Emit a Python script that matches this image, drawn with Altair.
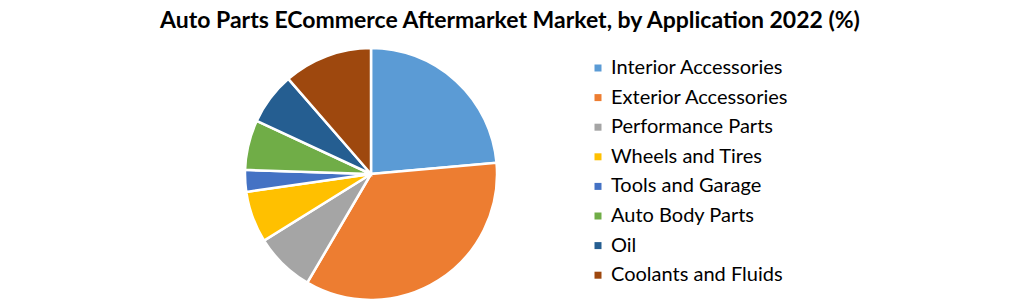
import altair as alt
import pandas as pd

categories = ["Interior Accessories", "Exterior Accessories", "Performance Parts",
              "Wheels and Tires", "Tools and Garage", "Auto Body Parts", "Oil",
              "Coolants and Fluids"]
values = [23.6, 34.9, 7.7, 6.6, 2.8, 6.4, 6.7, 11.4]
colors = ["#5B9BD5", "#ED7D31", "#A5A5A5", "#FFC000", "#4472C4", "#70AD47",
          "#255E91", "#9E480E"]
title_text = "Auto Parts ECommerce Aftermarket Market, by Application  2022 (%)"

df = pd.DataFrame({"category": categories, "value": values,
                   "order": list(range(len(categories)))})

pie = alt.Chart(df).mark_arc(radius=126, stroke="white", strokeWidth=2.5).encode(
    theta=alt.Theta("value:Q", stack=True),
    order=alt.Order("order:Q"),
    x=alt.value(371),
    y=alt.value(174),
    color=alt.Color(
        "category:N",
        sort=categories,
        scale=alt.Scale(domain=categories, range=colors),
        legend=alt.Legend(
            title=None, orient="none", legendX=588, legendY=58,
            symbolType="square", symbolSize=49, symbolStrokeWidth=0,
            labelFontSize=20, labelFont="Lato", labelColor="#000000",
            rowPadding=9.6, labelOffset=3, labelLimit=400,
        ),
    ),
)

title = alt.Chart(pd.DataFrame({"t": [title_text]})).mark_text(
    fontSize=23, fontWeight="bold", font="Lato", color="#000000",
    align="center", baseline="middle"
).encode(text="t:N", x=alt.value(510), y=alt.value(21))

chart = alt.layer(pie, title).properties(
    width=1020, height=303, autosize=alt.AutoSizeParams(type="none"),
    padding=0, background="white"
).configure_view(stroke=None)

chart.save("out.html", embed_options={"renderer": "svg", "actions": False})
